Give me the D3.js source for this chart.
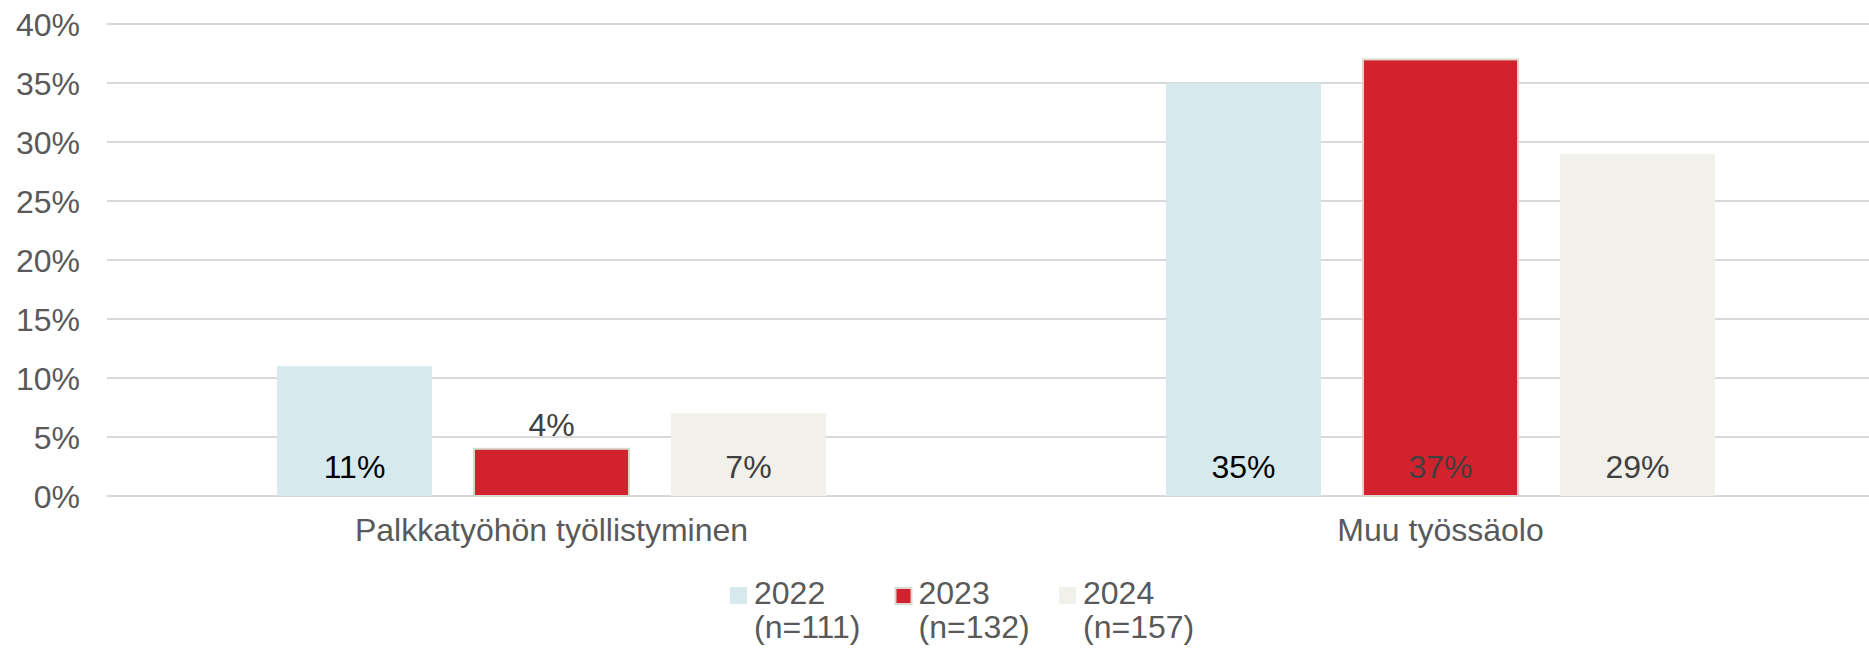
<!DOCTYPE html>
<html>
<head>
<meta charset="utf-8">
<script src="https://cdn.jsdelivr.net/npm/d3@7"></script>
<style>
  body { margin: 0; background: #fff; }
  text { font-family: "Liberation Sans", Arial, sans-serif; }
</style>
</head>
<body>
<div id="chart"></div>
<script>
// data
var categories = ["Palkkatyöhön työllistyminen", "Muu työssäolo"];
var years = ["2022", "2023", "2024"];
var sampleSizes = ["(n=111)", "(n=132)", "(n=157)"];
var values2022 = [11, 35];
var values2023 = [4, 37];
var values2024 = [7, 29];
var yTicks = [0, 5, 10, 15, 20, 25, 30, 35, 40];

var seriesValues = [values2022, values2023, values2024];
var fills = ["#d6eaee", "#d2222e", "#f1f0eb"];
var labelColors = ["#000000", "#404040", "#404040"];

var svgWidth = 1869;
var svgHeight = 648;

var svg = d3.select("#chart")
  .append("svg")
  .attr("width", svgWidth)
  .attr("height", svgHeight);

// scales
var x0 = d3.scaleBand()
  .domain(categories)
  .range([107, 1885])
  .padding(0);

var x1 = d3.scaleBand()
  .domain(years)
  .range([170, x0.bandwidth() - 170])
  .paddingInner(0.213)
  .paddingOuter(0);

var y = d3.scaleLinear()
  .domain([0, 40])
  .range([496, 24]);

// gridlines
svg.append("g")
  .selectAll("line")
  .data(yTicks)
  .enter()
  .append("line")
  .attr("x1", 107)
  .attr("x2", 1885)
  .attr("y1", d => y(d))
  .attr("y2", d => y(d))
  .attr("stroke", "#d9d9d9")
  .attr("stroke-width", 2);

// y axis labels
var yAxis = d3.axisLeft(y)
  .tickValues(yTicks)
  .tickFormat(d => d + "%")
  .tickSize(0)
  .tickPadding(0);

var yAxisG = svg.append("g")
  .attr("transform", "translate(80,0)")
  .call(yAxis);
yAxisG.select(".domain").remove();
yAxisG.selectAll("text")
  .attr("fill", "#595959")
  .style("font-size", "32px")
  .attr("dy", "0.36em");

// bars
var groups = svg.append("g")
  .selectAll("g")
  .data(categories)
  .enter()
  .append("g")
  .attr("transform", d => `translate(${x0(d)},0)`);

groups.selectAll("rect")
  .data((c, ci) => years.map((yr, si) => ({ year: yr, si: si, value: seriesValues[si][ci] })))
  .enter()
  .append("rect")
  .attr("x", d => x1(d.year))
  .attr("y", d => y(d.value))
  .attr("width", x1.bandwidth())
  .attr("height", d => y(0) - y(d.value))
  .attr("fill", d => fills[d.si])
  .attr("stroke", d => d.si === 1 ? "#dcd7cb" : "none")
  .attr("stroke-width", 2);

// value labels (inside bottom, or above when bar is too short)
groups.selectAll("text")
  .data((c, ci) => years.map((yr, si) => ({ year: yr, si: si, value: seriesValues[si][ci] })))
  .enter()
  .append("text")
  .attr("x", d => x1(d.year) + x1.bandwidth() / 2)
  .attr("y", d => (y(0) - y(d.value)) < 50 ? y(d.value) - 13 : y(0) - 18)
  .attr("text-anchor", "middle")
  .attr("fill", d => labelColors[d.si])
  .style("font-size", "32px")
  .text(d => d.value + "%");

// category labels
var xAxis = d3.axisBottom(x0).tickSize(0).tickPadding(0);
var xAxisG = svg.append("g")
  .attr("transform", "translate(0,515)")
  .call(xAxis);
xAxisG.select(".domain").remove();
xAxisG.selectAll("text")
  .attr("fill", "#595959")
  .style("font-size", "32px")
  .attr("dy", "0.8em");

// legend
var legend = svg.append("g")
  .selectAll("g")
  .data(years)
  .enter()
  .append("g")
  .attr("transform", (d, i) => `translate(${730 + i * 164.5},0)`);

legend.append("rect")
  .attr("x", (d, i) => i === 1 ? 1 : 0)
  .attr("y", (d, i) => i === 1 ? 588 : 587)
  .attr("width", (d, i) => i === 1 ? 16 : 17)
  .attr("height", (d, i) => i === 1 ? 16 : 17)
  .attr("fill", (d, i) => fills[i])
  .attr("stroke", (d, i) => i === 1 ? "#dcd7cb" : "none")
  .attr("stroke-width", 2);

legend.append("text")
  .attr("x", 24)
  .attr("y", 604)
  .attr("fill", "#595959")
  .style("font-size", "32px")
  .text(d => d);

legend.append("text")
  .attr("x", 24)
  .attr("y", 638)
  .attr("fill", "#595959")
  .style("font-size", "32px")
  .text((d, i) => sampleSizes[i]);
</script>
</body>
</html>
